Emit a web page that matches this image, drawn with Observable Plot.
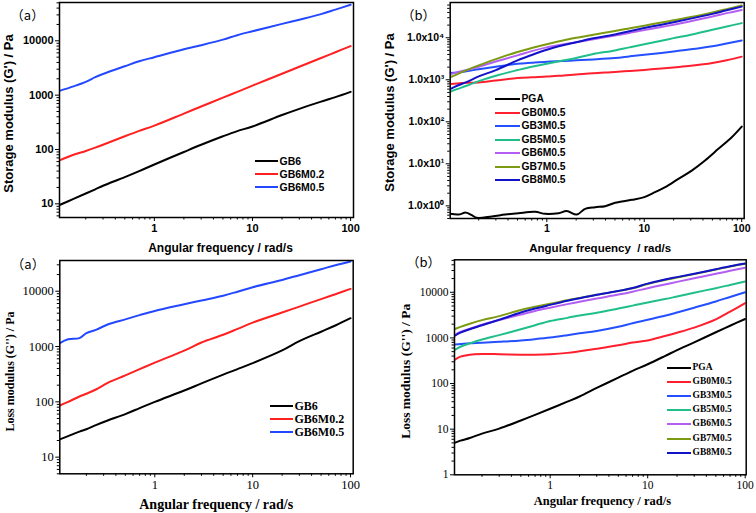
<!DOCTYPE html>
<html><head><meta charset="utf-8">
<script src="https://cdn.jsdelivr.net/npm/d3@7"></script>
<script src="https://cdn.jsdelivr.net/npm/@observablehq/plot@0.6"></script>
<style>
body{margin:0;background:#fff;}
#wrap{position:relative;width:756px;height:513px;overflow:hidden;background:#fff;}
.panel{position:absolute;}
.legline{position:absolute;height:2px;}
.legtext{position:absolute;white-space:nowrap;line-height:1;transform:translateY(-50%);color:#000;font-weight:bold;}
</style></head><body><div id="wrap"></div>
<script>
// ---------- data ----------
const xMajor = [1, 10, 100];
const xMinor = [0.2,0.3,0.4,0.5,0.6,0.7,0.8,0.9,2,3,4,5,6,7,8,9,20,30,40,50,60,70,80,90];

// top-left: storage modulus, GB6 series
const tlNames = ["GB6", "GB6M0.2", "GB6M0.5"];
const tlColors = ["#000000", "#ff2020", "#2448ff"];
const tlFreq = [0.108,0.15,0.2,0.25,0.3,0.5,0.7,1,2,3,5,7,10,20,30,50,70,100];
const tlGB6 = [9.5,12.3,15.5,18.5,21.5,31,40,53,90,122,175,218,265,430,560,760,920,1150];
const tlGB6M02 = [63,80,94,108,122,175,220,275,458,618,900,1150,1500,2480,3330,4830,6170,8000];
const tlGB6M05 = [1200,1450,1750,2150,2450,3400,4200,5000,7000,8300,10500,12700,15000,20500,24500,31000,37500,46000];
const tlYMajor = [10, 100, 1000, 10000];

// top-right: storage modulus, GBxM0.5 series
const bNames = ["PGA","GB0M0.5","GB3M0.5","GB5M0.5","GB6M0.5","GB7M0.5","GB8M0.5"];
const bColors = ["#000000","#ff1f2e","#2450ff","#1fbf8c","#b35ef2","#7c9a12","#1212c8"];
const trPgaFreq = [0.102,0.124,0.148,0.17,0.191,0.273,0.374,0.512,0.759,0.96,1.32,1.6,2.03,2.47,3.13,3.97,5.02,7.44,10,12.9,16.4,22.4,30.7,42,57.6,79,100];
const trPGA = [0.645,0.62,0.69,0.6,0.52,0.56,0.62,0.67,0.72,0.645,0.67,0.75,0.62,0.85,0.93,0.98,1.18,1.39,1.61,2.11,2.78,4.4,6.9,12,22.7,43,77];
const trFreq = [0.102,0.12,0.15,0.2,0.3,0.5,0.7,1,1.5,2,3,5,7,10,15,20,30,50,70,100];
const trGB0 = [790,820,850,860,960,1100,1150,1190,1270,1330,1430,1530,1620,1720,1850,1970,2150,2500,2900,3550];
const trGB3 = [1450,1500,1600,1780,2050,2400,2550,2700,2800,2900,3050,3300,3600,3950,4350,4700,5300,6300,7300,8600];
const trGB5 = [520,600,720,930,1250,1700,2050,2400,2900,3300,4100,5000,5900,7000,8500,9800,11800,15500,18500,22300];
const trGB6 = [1350,1500,1700,2050,2720,3800,4800,5900,7000,7800,9200,11300,13000,15200,18000,20500,24800,32000,38500,46000];
const trGB7 = [1150,1350,1700,2200,3100,4600,5700,7000,8700,10000,11800,14500,16700,19400,23000,26000,31000,40000,48000,58500];
const trGB8 = [600,720,880,1200,1700,2900,3900,5200,6700,7800,9700,12000,14200,17000,20500,23500,28500,37000,45000,55000];
const trYMajor = [1, 10, 100, 1000, 10000];

// bottom-left: loss modulus, GB6 series
const blFreq = [0.107,0.13,0.17,0.2,0.25,0.33,0.5,0.7,1,2,3,5,7,10,20,30,50,70,100];
const blGB6 = [21,24,29,32,38,46,60,77,100,160,215,310,390,500,850,1250,1850,2400,3250];
const blGB6M02 = [86,100,125,140,167,220,300,390,510,845,1180,1630,2080,2700,4120,5270,7200,8830,11000];
const blGB6M05 = [1150,1350,1420,1750,2000,2500,3100,3700,4400,5800,6800,8300,9800,11800,16000,19500,25000,29500,34500];
const blYMajor = [10, 100, 1000, 10000];

// bottom-right: loss modulus, GBxM0.5 series
const brFreq = [0.1044,0.12,0.15,0.2,0.3,0.5,0.7,1,1.5,2,3,5,7,10,15,20,30,50,70,100];
const brPGA = [5,5.6,6.4,8.0,10.3,15.5,20.5,28,40,52,80,135,190,265,400,540,800,1330,1850,2600];
const brGB0 = [330,390,430,445,440,430,430,440,470,510,580,690,790,880,1100,1300,1680,2550,3750,5800];
const brGB3 = [720,735,760,780,820,880,940,1020,1150,1260,1420,1750,2100,2500,3050,3600,4600,6300,7900,10000];
const brGB5 = [540,640,760,920,1150,1550,1900,2350,2750,3100,3550,4400,5100,6000,7100,8100,9800,12300,14500,17300];
const brGB6 = [1150,1350,1600,1950,2450,3250,3900,4600,5500,6200,7300,8900,10300,12300,14800,16900,20300,25500,29500,34500];
const brGB7 = [1550,1750,2050,2450,3000,4100,4800,5600,6700,7500,8800,10600,12200,15200,18600,21000,25000,31500,36500,42000];
const brGB8 = [1100,1300,1550,1900,2500,3600,4400,5300,6500,7400,8800,10700,12400,15500,19000,21500,25500,32000,37000,42500];
const brYMajor = [1, 10, 100, 1000, 10000];

// ---------- helpers ----------
function rows(pairs, names) {
  const out = [];
  pairs.forEach(([freq, vals], i) => vals.forEach((v, j) => out.push({f: freq[j], v, s: names[i]})));
  return out;
}
function minorTicks(lo, hi) {
  const t = [];
  for (let e = Math.floor(Math.log10(lo)); e <= Math.ceil(Math.log10(hi)); e++)
    for (let k = 2; k <= 9; k++) { const v = k * Math.pow(10, e); if (v >= lo && v <= hi) t.push(v); }
  return t;
}
const supMap = {"-":"⁻","0":"⁰","1":"¹","2":"²","3":"³","4":"⁴","5":"⁵","6":"⁶","7":"⁷","8":"⁸","9":"⁹"};
const sciFmt = d => "1.0x10" + String(Math.round(Math.log10(d))).split("").map(c => supMap[c]).join("");

const wrap = document.getElementById("wrap");

function panel(c) {
  const lblFont = c.labelFont;
  const chart = Plot.plot({
    width: c.w, height: c.h,
    marginLeft: c.ml, marginRight: c.mr, marginTop: c.mt, marginBottom: c.mb,
    style: {fontFamily: c.tickFont, fontSize: c.tickFs + "px", fontWeight: c.tickWeight, background: "transparent", color: "#000", overflow: "visible"},
    x: {type: "log", domain: c.xDomain},
    y: {type: "log", domain: c.yDomain},
    color: {domain: c.names, range: c.colors},
    marks: [
      Plot.line(c.data, {x: "f", y: "v", z: "s", stroke: "s", strokeWidth: 2, curve: "catmull-rom", clip: true}),
      Plot.frame({stroke: "#000", strokeWidth: 1.5}),
      Plot.axisX({ticks: xMajor, tickSize: 4, tickPadding: 2.5, tickFormat: d => String(d), label: null}),
      Plot.axisX({ticks: xMinor, tickSize: 2.5, tickFormat: () => "", label: null}),
      Plot.axisY({ticks: c.yMajor, tickSize: 4, tickPadding: 2, tickFormat: c.yFmt, label: null}),
      Plot.axisY({ticks: minorTicks(c.yDomain[0], c.yDomain[1]), tickSize: 2.5, tickFormat: () => "", label: null}),
      Plot.text([c.xLabel], {text: d => d, frameAnchor: "bottom", textAnchor: "middle", lineAnchor: "middle", dx: c.xlDx, dy: c.xlDy, fontSize: c.xlFs, fontWeight: "bold", fontFamily: lblFont}),
      Plot.text([c.yLabel], {text: d => d, frameAnchor: "left", textAnchor: "middle", lineAnchor: "middle", rotate: -90, dx: c.ylDx, dy: c.ylDy, fontSize: c.ylFs, fontWeight: "bold", fontFamily: lblFont}),
      Plot.text([c.tag], {text: d => d, frameAnchor: "top-left", textAnchor: "middle", lineAnchor: "middle", dx: c.tagDx, dy: c.tagDy, fontSize: 13, fontWeight: "normal", fontFamily: "Noto Sans CJK SC"})
    ]
  });
  const div = document.createElement("div");
  div.className = "panel";
  div.style.left = c.left + "px";
  div.style.top = c.top + "px";
  div.appendChild(chart);
  wrap.appendChild(div);
  // legend
  c.names.forEach((n, i) => {
    const y = c.leg.y0 + i * c.leg.dy;
    const ln = document.createElement("div");
    ln.className = "legline";
    ln.style.left = c.leg.x0 + "px"; ln.style.width = c.leg.w + "px";
    ln.style.top = (y - 1) + "px"; ln.style.background = c.colors[i];
    wrap.appendChild(ln);
    const tx = document.createElement("div");
    tx.className = "legtext";
    tx.style.left = (c.leg.x0 + c.leg.w + 1.5) + "px"; tx.style.top = y + "px";
    tx.style.fontFamily = c.leg.font; tx.style.fontSize = c.leg.fs + "px";
    tx.textContent = n;
    wrap.appendChild(tx);
  });
}

const sans = "'Liberation Sans', Arial, sans-serif";
const serif = "'Liberation Serif', 'Times New Roman', serif";

panel({
  left: 0, top: 0, w: 378, h: 256, ml: 59, mr: 25, mt: 2, mb: 39,
  xDomain: [0.108, 107], yDomain: [5.6, 50700],
  names: tlNames, colors: tlColors,
  data: rows([[tlFreq, tlGB6], [tlFreq, tlGB6M02], [tlFreq, tlGB6M05]], tlNames),
  yMajor: tlYMajor, yFmt: d => String(d),
  tickFont: sans, tickFs: 11, tickWeight: "bold", labelFont: sans,
  xLabel: "Angular frequency / rad/s", xlDx: 14, xlDy: 31, xlFs: 12,
  yLabel: "Storage modulus (G') / Pa", ylDx: -51, ylDy: 3.5, ylFs: 13,
  tag: "（a）", tagDx: -32, tagDy: 13,
  leg: {x0: 255, w: 23, y0: 161, dy: 13, font: sans, fs: 10.5}
});

panel({
  left: 378, top: 0, w: 378, h: 256, ml: 71.7, mr: 12.3, mt: 2, mb: 38,
  xDomain: [0.102, 106], yDomain: [0.5, 69000],
  names: bNames, colors: bColors,
  data: rows([[trPgaFreq, trPGA], [trFreq, trGB0], [trFreq, trGB3], [trFreq, trGB5], [trFreq, trGB6], [trFreq, trGB7], [trFreq, trGB8]], bNames),
  yMajor: trYMajor, yFmt: sciFmt,
  tickFont: sans, tickFs: 10.5, tickWeight: "bold", labelFont: sans,
  xLabel: "Angular frequency  / rad/s", xlDx: 3, xlDy: 30.3, xlFs: 11.5,
  yLabel: "Storage modulus (G') / Pa", ylDx: -60, ylDy: 2, ylFs: 13,
  tag: "（b）", tagDx: -31.7, tagDy: 13,
  leg: {x0: 495, w: 25, y0: 99.3, dy: 13.45, font: sans, fs: 10.3}
});

panel({
  left: 0, top: 256, w: 378, h: 257, ml: 59.3, mr: 25.3, mt: 4, mb: 39.7,
  xDomain: [0.107, 106.5], yDomain: [5.0, 35900],
  names: tlNames, colors: tlColors,
  data: rows([[blFreq, blGB6], [blFreq, blGB6M02], [blFreq, blGB6M05]], tlNames),
  yMajor: blYMajor, yFmt: d => String(d),
  tickFont: serif, tickFs: 12.5, tickWeight: "normal", labelFont: serif,
  xLabel: "Angular frequency / rad/s", xlDx: 9.7, xlDy: 31, xlFs: 14,
  yLabel: "Loss modulus (G'') / Pa", ylDx: -50, ylDy: 4.4, ylFs: 12,
  tag: "（a）", tagDx: -31.8, tagDy: 4,
  leg: {x0: 270, w: 23, y0: 406, dy: 13, font: serif, fs: 12}
});

panel({
  left: 378, top: 256, w: 378, h: 257, ml: 76, mr: 10.3, mt: 3.3, mb: 38.7,
  xDomain: [0.1044, 102.4], yDomain: [1, 51500],
  names: bNames, colors: bColors,
  data: rows([[brFreq, brPGA], [brFreq, brGB0], [brFreq, brGB3], [brFreq, brGB5], [brFreq, brGB6], [brFreq, brGB7], [brFreq, brGB8]], bNames),
  yMajor: brYMajor, yFmt: d => String(d),
  tickFont: serif, tickFs: 11.5, tickWeight: "normal", labelFont: serif,
  xLabel: "Angular frequency / rad/s", xlDx: 2, xlDy: 26, xlFs: 12.5,
  yLabel: "Loss modulus (G'') / Pa", ylDx: -49.3, ylDy: 4, ylFs: 13.5,
  tag: "（b）", tagDx: -31, tagDy: 3.4,
  leg: {x0: 667, w: 24, y0: 367.7, dy: 14.17, font: serif, fs: 9.5}
});
</script>
</body></html>
